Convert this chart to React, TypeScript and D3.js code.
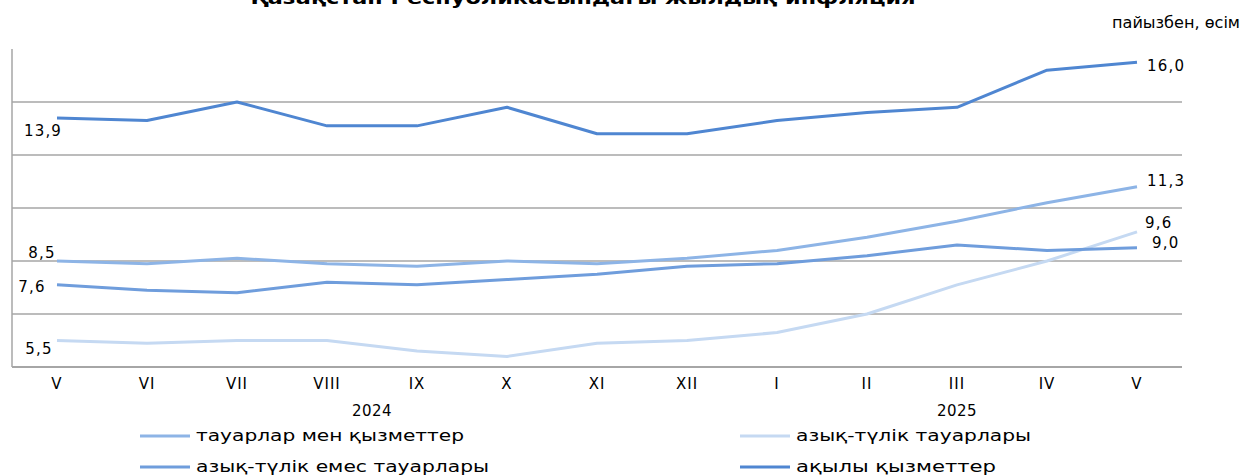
import React from "react";
import * as d3 from "d3";

const months = ["V", "VI", "VII", "VIII", "IX", "X", "XI", "XII", "I", "II", "III", "IV", "V"];
const years = [
  { label: "2024", from: 0, to: 7 },
  { label: "2025", from: 8, to: 12 },
];
const allGoods = [8.5, 8.4, 8.6, 8.4, 8.3, 8.5, 8.4, 8.6, 8.9, 9.4, 10.0, 10.7, 11.3];
const foodGoods = [5.5, 5.4, 5.5, 5.5, 5.1, 4.9, 5.4, 5.5, 5.8, 6.5, 7.6, 8.5, 9.6];
const nonFoodGoods = [7.6, 7.4, 7.3, 7.7, 7.6, 7.8, 8.0, 8.3, 8.4, 8.7, 9.1, 8.9, 9.0];
const paidServices = [13.9, 13.8, 14.5, 13.6, 13.6, 14.3, 13.3, 13.3, 13.8, 14.1, 14.3, 15.7, 16.0];

const seriesNames = [
  "тауарлар мен қызметтер",
  "азық-түлік тауарлары",
  "азық-түлік емес тауарлары",
  "ақылы қызметтер",
];
const title = "Қазақстан Республикасындағы жылдық инфляция";
const unitLabel = "пайызбен, өсім";
const gridValues = [6.5, 8.5, 10.5, 12.5, 14.5];

const fmt = (v: number) => v.toFixed(1).replace(".", ",");

export default function App() {
  const W = 1248;
  const H = 475;
  const x = d3.scalePoint<number>().domain(months.map((_, i) => i)).range([57, 1137]);
  const y = d3.scaleLinear().domain([4.5, 16.5]).range([367, 49]);
  const line = d3
    .line<number>()
    .x((_, i) => x(i) as number)
    .y((d) => y(d));

  const series = [
    { name: seriesNames[0], data: allGoods, color: "#8db4e6", width: 3 },
    { name: seriesNames[1], data: foodGoods, color: "#c5d9f2", width: 3 },
    { name: seriesNames[2], data: nonFoodGoods, color: "#6f9ddc", width: 3 },
    { name: seriesNames[3], data: paidServices, color: "#4f86d1", width: 3 },
  ];
  const drawOrder = [1, 2, 0, 3];

  const labelStyle = [
    { first: { dx: -15, dy: -3, anchor: "middle" }, last: { dx: 10, dy: -1, anchor: "start" } },
    { first: { dx: -18, dy: 13, anchor: "middle" }, last: { dx: 8, dy: -4, anchor: "start" } },
    { first: { dx: -25, dy: 7, anchor: "middle" }, last: { dx: 15, dy: 0, anchor: "start" } },
    { first: { dx: -14, dy: 18, anchor: "middle" }, last: { dx: 10, dy: 9, anchor: "start" } },
  ];

  const legendItems = [
    { s: 0, lx: 140, ly: 436, tw: 268 },
    { s: 1, lx: 740, ly: 436, tw: 235 },
    { s: 2, lx: 140, ly: 467, tw: 293 },
    { s: 3, lx: 740, ly: 467, tw: 200 },
  ];

  const font = "'DejaVu Sans', sans-serif";

  return (
    <svg
      width={W}
      height={H}
      style={{ position: "absolute", left: 0, top: 0, background: "#fff" }}
      fontFamily={font}
    >
      <rect width={W} height={H} fill="#fff" />
      <text x={583} y={4} textAnchor="middle" fontSize={18} fontWeight="bold" fill="#000" textLength={665} lengthAdjust="spacingAndGlyphs">
        {title}
      </text>
      <text x={1240} y={28} textAnchor="end" fontSize={16} fill="#000" textLength={128} lengthAdjust="spacingAndGlyphs">
        {unitLabel}
      </text>

      {gridValues.map((g) => (
        <line key={g} x1={12} x2={1182} y1={y(g)} y2={y(g)} stroke="#a6a6a6" strokeWidth={1.5} />
      ))}
      <line x1={12} x2={1182} y1={y(4.5)} y2={y(4.5)} stroke="#a6a6a6" strokeWidth={2} />
      <line x1={12} x2={12} y1={y(16.5)} y2={y(4.5)} stroke="#a6a6a6" strokeWidth={1.5} />

      {drawOrder.map((si) => (
        <path
          key={si}
          d={line(series[si].data) || ""}
          fill="none"
          stroke={series[si].color}
          strokeWidth={series[si].width}
          strokeLinejoin="round"
        />
      ))}

      {series.map((s, si) => {
        const n = s.data.length - 1;
        const f = labelStyle[si].first;
        const l = labelStyle[si].last;
        return (
          <g key={si} fontSize={15} fill="#000">
            <text x={(x(0) as number) + f.dx} y={y(s.data[0]) + f.dy} textAnchor={f.anchor as any} letterSpacing={1.2}>
              {fmt(s.data[0])}
            </text>
            <text x={(x(n) as number) + l.dx} y={y(s.data[n]) + l.dy} textAnchor={l.anchor as any} letterSpacing={1.2}>
              {fmt(s.data[n])}
            </text>
          </g>
        );
      })}

      {months.map((m, i) => (
        <text key={i} x={x(i) as number} y={389} textAnchor="middle" fontSize={15} fill="#000" letterSpacing={1}>
          {m}
        </text>
      ))}
      {years.map((yr) => (
        <text
          key={yr.label}
          x={((x(yr.from) as number) + (x(yr.to) as number)) / 2}
          y={416}
          textAnchor="middle"
          fontSize={15}
          fill="#000"
          letterSpacing={0.5}
        >
          {yr.label}
        </text>
      ))}

      {legendItems.map((it) => (
        <g key={it.s}>
          <line x1={it.lx} x2={it.lx + 50} y1={it.ly} y2={it.ly} stroke={series[it.s].color} strokeWidth={3} />
          <text x={it.lx + 56} y={it.ly + 5} fontSize={15} fill="#000" textLength={it.tw} lengthAdjust="spacingAndGlyphs">
            {series[it.s].name}
          </text>
        </g>
      ))}
    </svg>
  );
}
